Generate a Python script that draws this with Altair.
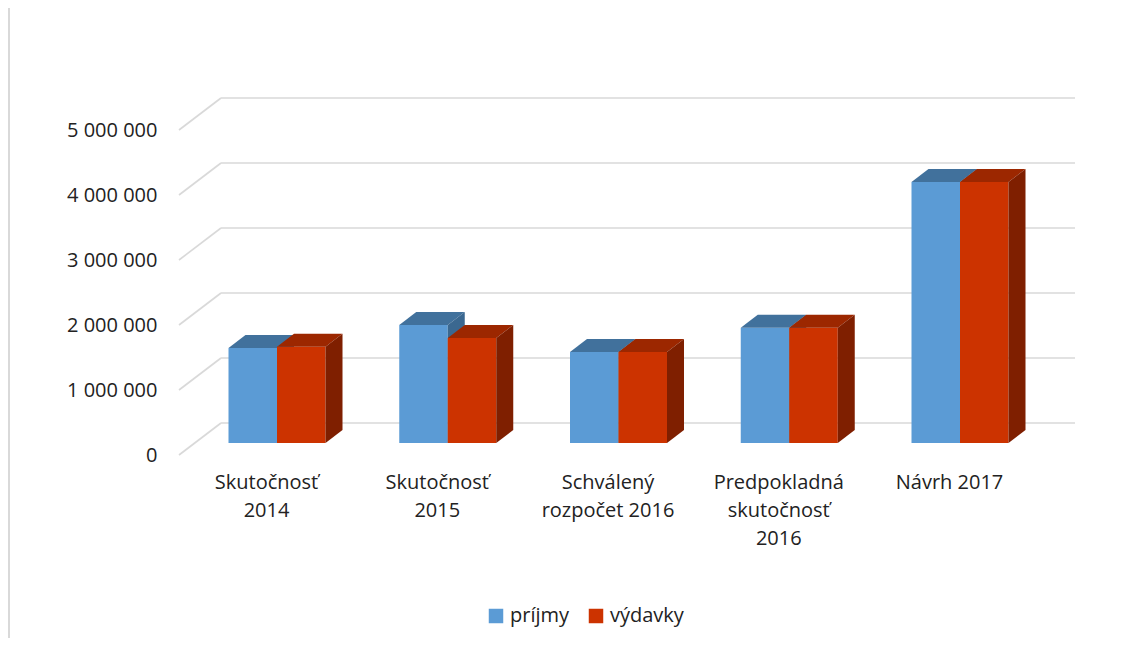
import altair as alt
import pandas as pd

# ---------------- data ----------------
categories = ["Skutočnosť|2014", "Skutočnosť|2015", "Schválený|rozpočet 2016",
              "Predpokladná|skutočnosť|2016", "Návrh 2017"]
series = ["príjmy", "výdavky"]
prijmy = [1460000, 1815000, 1400000, 1775000, 4015000]
vydavky = [1480000, 1615000, 1400000, 1775000, 4015000]
y_ticks = [0, 1000000, 2000000, 3000000, 4000000, 5000000]

front_colors = ["#5B9BD5", "#CC3300"]
top_colors = ["#41719C", "#9C2700"]
side_colors = ["#3B6890", "#7F1F00"]

# ---------------- layout (pixels) ----------------
W, H = 1130, 630
FONT = "Open Sans"
x_center0 = 269.0   # view px of first category's centre
step = 170.75       # px between categories
ppm = 65.0          # px per 1 000 000
y_zero = 447.0      # view px of value 0 on the front plane

bar_w = 48.5 / step          # bar width in category units
depth_x = 17.0 / step        # 3D depth in category units
depth_y = 13.0 / ppm * 1e6   # 3D depth in value units
bar_base = 12.0 / ppm * 1e6  # bars stand a bit behind the front plane

x_dom = [-x_center0 / step, (W - x_center0) / step]
y_dom = [-(H - y_zero) / ppm * 1e6, y_zero / ppm * 1e6]
xscale = alt.Scale(domain=x_dom, nice=False, zero=False)
yscale = alt.Scale(domain=y_dom, nice=False, zero=False)

label_arr = "[" + ",".join("'" + c + "'" for c in categories) + "]"
xaxis = alt.Axis(values=list(range(len(categories))),
                 labelExpr="split(" + label_arr + "[round(datum.value)], '|')",
                 offset=-166, domain=False, ticks=False, grid=False, title=None,
                 labelFontSize=20, labelFont=FONT, labelColor="#222222",
                 labelLineHeight=28, labelBaseline="top", labelPadding=0,
                 labelOffset=-11, labelOverlap=False, labelFlush=False, labelBound=False)
yaxis = alt.Axis(values=y_ticks,
                 labelExpr="replace(replace(format(datum.value, ','), ',', ' '), ',', ' ')",
                 offset=-149, domain=False, ticks=False, tickSize=0, grid=False, title=None,
                 labelFontSize=20, labelFont=FONT, labelColor="#222222",
                 labelPadding=0, labelOverlap=False, labelFlush=False, labelBound=False)


def X(f):
    return alt.X(f, type="quantitative", scale=xscale, axis=xaxis)


def Y(f):
    return alt.Y(f, type="quantitative", scale=yscale, axis=yaxis)


# ---------------- tables built from the arrays ----------------
fronts, tops, sides = [], [], []
for k, (s, vals) in enumerate(zip(series, [prijmy, vydavky])):
    for i, v in enumerate(vals):
        xl = i - bar_w if k == 0 else i
        xr = xl + bar_w
        top = bar_base + v
        fronts.append(dict(series=s, x1=xl, x2=xr, y1=bar_base, y2=top, cat=i))
        fid = f"{k}-{i}"
        for xx, ya, yb in [(xl, top, top), (xl + depth_x, top + depth_y, top),
                           (xr, top + depth_y, top), (xr + depth_x, top + depth_y, top + depth_y)]:
            tops.append(dict(series=s, face=fid, x=xx, y=ya, y2=yb))
        for xx, ya, yb in [(xr, top, bar_base), (xr + depth_x, top + depth_y, bar_base + depth_y)]:
            sides.append(dict(series=s, face=fid, x=xx, y=ya, y2=yb))

fronts = pd.DataFrame(fronts)
tops = pd.DataFrame(tops)
sides = pd.DataFrame(sides)
grid_df = pd.DataFrame({"v": y_ticks})

GRID = "#D9D9D9"

back_grid = alt.Chart(grid_df).mark_rule(color=GRID, strokeWidth=1.6, yOffset=-32).encode(
    y=Y("v"), x=alt.value(213), x2=alt.value(1067))
side_grid = alt.Chart(grid_df).mark_rule(color=GRID, strokeWidth=1.6, y2Offset=-32).encode(
    y=Y("v"), y2=alt.Y2("v"), x=alt.value(171), x2=alt.value(213))
border = alt.Chart(grid_df).mark_rule(color=GRID, strokeWidth=2).encode(
    x=alt.value(1), y=alt.value(0), y2=alt.value(H))

layers = [border, back_grid, side_grid]
color = alt.Color("series:N", scale=alt.Scale(domain=series, range=front_colors),
                  legend=alt.Legend(orient="none", legendX=478, legendY=598, direction="horizontal",
                                    title=None, symbolType="square", symbolSize=210,
                                    symbolStrokeWidth=0, symbolOpacity=1,
                                    labelFontSize=20, labelFont=FONT, labelColor="#222222",
                                    labelOffset=4, columnPadding=16))
for k, s in enumerate(series):
    f = alt.Chart(fronts[fronts.series == s]).mark_rect(opacity=1).encode(
        x=X("x1"), x2=alt.X2("x2"), y=Y("y2"), y2=alt.Y2("y1"), color=color)
    t = alt.Chart(tops[tops.series == s]).mark_area(orient="vertical", color=top_colors[k],
                                                     opacity=1, interpolate="linear").encode(
        x=X("x"), y=Y("y"), y2=alt.Y2("y2"), detail="face:N")
    sd = alt.Chart(sides[sides.series == s]).mark_area(orient="vertical", color=side_colors[k],
                                                       opacity=1, interpolate="linear").encode(
        x=X("x"), y=Y("y"), y2=alt.Y2("y2"), detail="face:N")
    layers += [f, t, sd]

chart = alt.layer(*layers).properties(
    width=W, height=H,
    autosize=alt.AutoSizeParams(type="none"),
    padding=0,
).configure(font=FONT, view=alt.ViewConfig(stroke=None))

chart.save("out.html", embed_options={"renderer": "svg", "actions": False})
